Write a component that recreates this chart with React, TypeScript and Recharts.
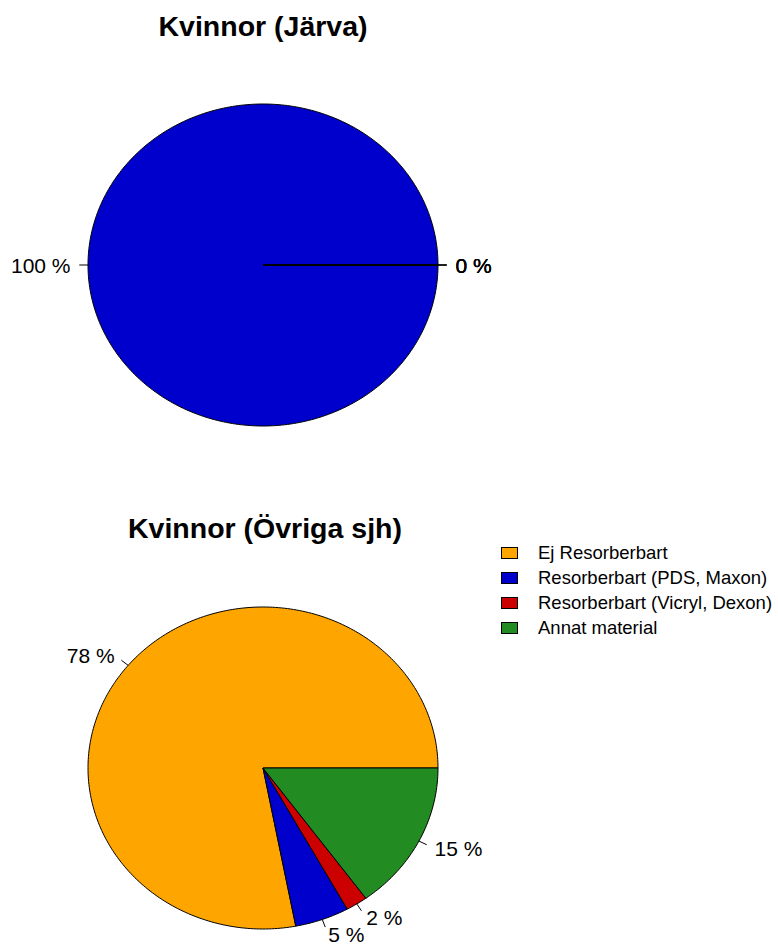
import React from 'react';
import { PieChart, Pie, Legend, Customized } from 'recharts';

const categories = ['Ej Resorberbart', 'Resorberbart (PDS, Maxon)', 'Resorberbart (Vicryl, Dexon)', 'Annat material'];
const colors = ['#FFA500', '#0000CD', '#CD0000', '#228B22'];
const jarvaValues = [0, 100, 0, 0];
const ovrigaValues = [78, 5, 2, 15];
const titles = ['Kvinnor (Järva)', 'Kvinnor (Övriga sjh)'];

const FONT = '"Liberation Sans", Arial, Helvetica, sans-serif';
const W = 778;
const H = 947;
const RX = 175;
const RY = 161;
const SY = RY / RX;

const jarvaData = categories.map((name, i) => ({ name, value: jarvaValues[i], fill: colors[i] }));
const ovrigaData = categories.map((name, i) => ({ name, value: ovrigaValues[i], fill: colors[i] }));

const EllipseSector = (props: any) => {
  const { cx, cy, outerRadius, startAngle, endAngle, fill } = props;
  const ry = outerRadius * SY;
  const span = endAngle - startAngle;
  const n = Math.max(2, Math.ceil(Math.abs(span)));
  let d = `M${cx},${cy}`;
  for (let i = 0; i <= n; i++) {
    const a = ((startAngle + (span * i) / n) * Math.PI) / 180;
    d += ` L${cx + outerRadius * Math.cos(a)},${cy - ry * Math.sin(a)}`;
  }
  d += ' Z';
  return <path d={d} fill={fill} stroke="#000" strokeWidth={1} strokeLinejoin="round" />;
};

const renderLabel = (props: any) => {
  const { cx, cy, midAngle, outerRadius, percent, index } = props;
  const a = (midAngle * Math.PI) / 180;
  const ry = outerRadius * SY;
  const x = cx + 1.1 * outerRadius * Math.cos(a);
  const y = cy - 1.1 * ry * Math.sin(a);
  const txt = `${Math.round((percent || 0) * 100)} %`;
  return (
    <text
      key={`lab-${index}`}
      x={x}
      y={y}
      textAnchor={Math.cos(a) < 0 ? 'end' : 'start'}
      dominantBaseline="central"
      fontFamily={FONT}
      fontSize={21}
      fill="#000"
    >
      {txt}
    </text>
  );
};

const renderLabelLine = (props: any) => {
  const { cx, cy, midAngle, outerRadius, index } = props;
  const a = (midAngle * Math.PI) / 180;
  const ry = outerRadius * SY;
  return (
    <line
      key={`ll-${index}`}
      x1={cx + outerRadius * Math.cos(a)}
      y1={cy - ry * Math.sin(a)}
      x2={cx + 1.05 * outerRadius * Math.cos(a)}
      y2={cy - 1.05 * ry * Math.sin(a)}
      stroke="#000"
      strokeWidth={1}
    />
  );
};

const Titles = () => (
  <g>
    <text x={263} y={36} textAnchor="middle" fontFamily={FONT} fontSize={28.5} fontWeight="bold" fill="#000">
      {titles[0]}
    </text>
    <text x={265} y={538} textAnchor="middle" fontFamily={FONT} fontSize={28.5} fontWeight="bold" fill="#000">
      {titles[1]}
    </text>
  </g>
);

const LegendContent = () => (
  <div style={{ fontFamily: FONT, fontSize: 18.5, color: '#000' }}>
    {categories.map((c, i) => (
      <div key={c} style={{ display: 'flex', alignItems: 'center', height: 25 }}>
        <span
          style={{
            display: 'inline-block',
            width: 15,
            height: 10,
            background: colors[i],
            border: '1px solid #000',
            marginLeft: 6,
            marginRight: 20,
            boxSizing: 'content-box',
          }}
        />
        <span style={{ lineHeight: '25px', whiteSpace: 'nowrap' }}>{c}</span>
      </div>
    ))}
  </div>
);

export default function App() {
  return (
    <div style={{ position: 'absolute', left: 0, top: 0, width: W, height: H, background: '#fff' }}>
      <PieChart width={W} height={H} margin={{ top: 0, right: 0, bottom: 0, left: 0 }}>
        <Pie
          data={jarvaData}
          dataKey="value"
          nameKey="name"
          cx={263}
          cy={265}
          outerRadius={RX}
          startAngle={0}
          endAngle={360}
          isAnimationActive={false}
          shape={EllipseSector}
          inactiveShape={EllipseSector}
          activeShape={EllipseSector}
          label={renderLabel}
          labelLine={renderLabelLine}
          stroke="#000"
        />
        <Pie
          data={ovrigaData}
          dataKey="value"
          nameKey="name"
          cx={263}
          cy={768}
          outerRadius={RX}
          startAngle={0}
          endAngle={360}
          isAnimationActive={false}
          shape={EllipseSector}
          inactiveShape={EllipseSector}
          activeShape={EllipseSector}
          label={renderLabel}
          labelLine={renderLabelLine}
          stroke="#000"
        />
        <Customized component={Titles} />
        <Legend
          content={LegendContent}
          wrapperStyle={{ position: 'absolute', left: 495, top: 540, width: 283, height: 100, bottom: 'auto' }}
        />
      </PieChart>
    </div>
  );
}
